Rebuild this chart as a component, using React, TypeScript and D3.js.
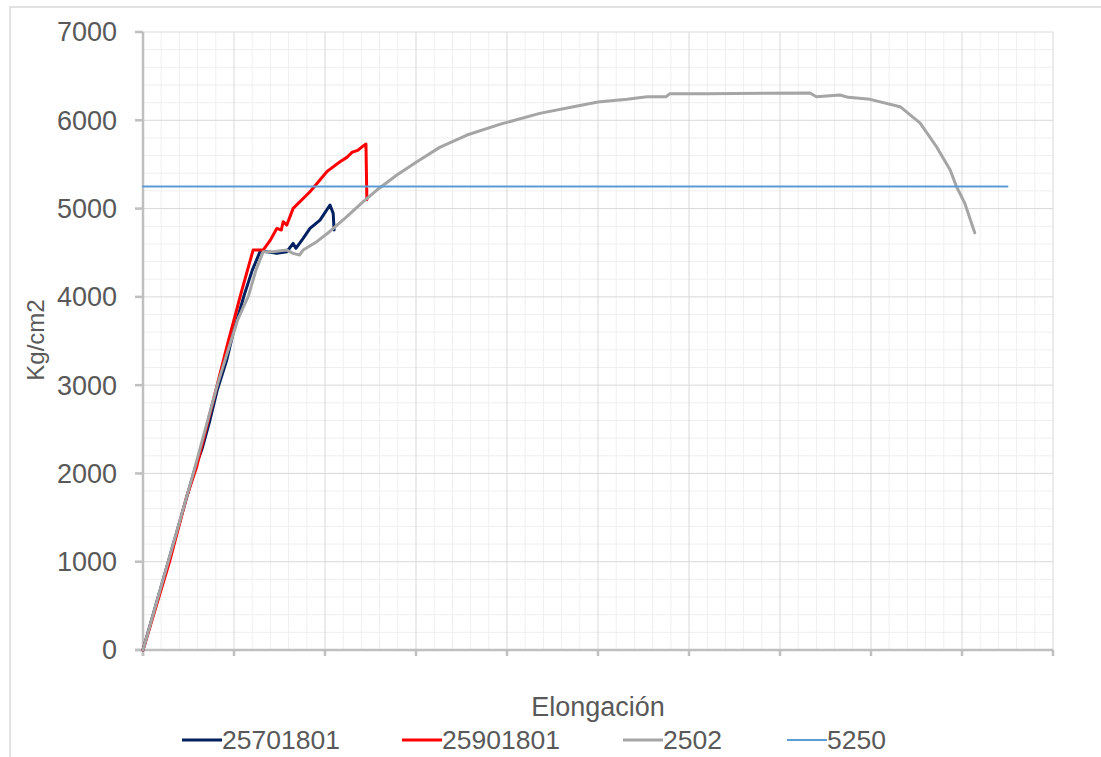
import * as d3 from "d3";

// readings (x: elongation in grid units, y: kg/cm2)
const s25701801: [number, number][] = [
  [0, 0], [0.55, 1980], [0.59, 2115], [0.645, 2265], [0.736, 2605], [0.816, 2945],
  [0.92, 3285], [0.99, 3587], [1.11, 4013], [1.2, 4300], [1.29, 4522], [1.47, 4493],
  [1.58, 4511], [1.65, 4606], [1.68, 4550], [1.76, 4662], [1.835, 4775], [1.945, 4870],
  [2.055, 5040], [2.09, 4946], [2.1, 4757],
];
const s25901801: [number, number][] = [
  [0, 0], [0.297, 1020], [0.48, 1736], [0.59, 2076], [0.736, 2681], [0.94, 3511],
  [1.0, 3738], [1.07, 4013], [1.21, 4530], [1.32, 4530], [1.36, 4587], [1.4, 4644],
  [1.47, 4775], [1.52, 4757], [1.54, 4851], [1.58, 4813], [1.65, 5002], [1.835, 5191],
  [2.02, 5418], [2.165, 5530], [2.24, 5580], [2.3, 5640], [2.36, 5660], [2.42, 5710],
  [2.45, 5730], [2.46, 5100],
];
const s2502: [number, number][] = [
  [0, 0], [0.553, 2000], [0.816, 3000], [0.93, 3380], [1.04, 3738], [1.16, 4013],
  [1.24, 4300], [1.32, 4510], [1.43, 4511], [1.58, 4530], [1.65, 4493], [1.72, 4474],
  [1.76, 4530], [1.91, 4625], [2.05, 4738], [2.24, 4908], [2.42, 5078], [2.57, 5210],
  [2.79, 5380], [3.01, 5531], [3.26, 5693], [3.56, 5833], [3.92, 5954], [4.36, 6078],
  [4.73, 6154], [5.0, 6207], [5.32, 6237], [5.54, 6267], [5.75, 6267], [5.79, 6301],
  [6.19, 6301], [7.33, 6309], [7.4, 6267], [7.66, 6286], [7.75, 6260], [7.99, 6237],
  [8.32, 6154], [8.54, 5968], [8.72, 5700], [8.87, 5436], [8.94, 5247], [9.03, 5062],
  [9.14, 4726],
];
const s5250: [number, number][] = [[0, 5250], [9.5, 5250]];

const seriesNames = ["25701801", "25901801", "2502", "5250"];
const seriesColors = ["#002060", "#ff0000", "#a5a5a5", "#5b9bd5"];
const seriesData = [s25701801, s25901801, s2502, s5250];
const seriesWidths = [3, 3, 3, 2];

const yTicks = [0, 1000, 2000, 3000, 4000, 5000, 6000, 7000];
const xMajor = d3.range(0, 11);

const W = 1101;
const H = 757;
const font = "'Liberation Sans', Arial, sans-serif";
const textColor = "#595959";

export default function App() {
  const x = d3.scaleLinear().domain([0, 10]).range([143, 1053]);
  const y = d3.scaleLinear().domain([0, 7000]).range([650, 32]);
  const line = d3.line<[number, number]>().x((d) => x(d[0])).y((d) => y(d[1]));

  const xMinor = d3.range(0, 50).map((i) => i * 0.2).filter((v) => Math.abs(v - Math.round(v)) > 1e-6);
  const yMinor = d3.range(0, 35).map((i) => i * 200).filter((v) => v % 1000 !== 0);

  const legendX = [182, 402, 623, 787];

  return (
    <svg width={W} height={H} style={{ position: "absolute", left: 0, top: 0, background: "#fff" }}>
      <rect x={10} y={7} width={W + 10} height={H + 10} fill="#fff" stroke="#d9d9d9" strokeWidth={1.5} />

      {/* minor grid */}
      {xMinor.map((v) => (
        <line key={"xm" + v} x1={x(v)} x2={x(v)} y1={y(0)} y2={y(7000)} stroke="#efefef" strokeWidth={1} />
      ))}
      {yMinor.map((v) => (
        <line key={"ym" + v} x1={x(0)} x2={x(10)} y1={y(v)} y2={y(v)} stroke="#efefef" strokeWidth={1} />
      ))}
      {/* major grid */}
      {xMajor.map((v) => (
        <line key={"xM" + v} x1={x(v)} x2={x(v)} y1={y(0)} y2={y(7000)} stroke="#d9d9d9" strokeWidth={1} />
      ))}
      {yTicks.map((v) => (
        <line key={"yM" + v} x1={x(0)} x2={x(10)} y1={y(v)} y2={y(v)} stroke="#d9d9d9" strokeWidth={1} />
      ))}

      {/* axes */}
      <line x1={x(0)} x2={x(0)} y1={y(0) + 6} y2={y(7000)} stroke="#bfbfbf" strokeWidth={2.5} />
      <line x1={135} x2={x(10)} y1={y(0)} y2={y(0)} stroke="#bfbfbf" strokeWidth={2.5} />
      {yTicks.map((v) => (
        <g key={"yt" + v}>
          <line x1={135} x2={x(0)} y1={y(v)} y2={y(v)} stroke="#bfbfbf" strokeWidth={2.5} />
          <text x={117} y={y(v)} dy="0.35em" textAnchor="end" fontFamily={font} fontSize={27} fill={textColor}>
            {v}
          </text>
        </g>
      ))}
      {xMajor.map((v) => (
        <line key={"xt" + v} x1={x(v)} x2={x(v)} y1={y(0)} y2={y(0) + 6} stroke="#bfbfbf" strokeWidth={2.5} />
      ))}

      {/* series */}
      {seriesData.map((d, i) => (
        <path key={seriesNames[i]} d={line(d) ?? ""} fill="none" stroke={seriesColors[i]}
          strokeWidth={seriesWidths[i]} strokeLinejoin="round" strokeLinecap="round" />
      ))}

      {/* titles */}
      <text transform="translate(44,340) rotate(-90)" textAnchor="middle" fontFamily={font} fontSize={24} fill={textColor}>
        Kg/cm2
      </text>
      <text x={598} y={716} textAnchor="middle" fontFamily={font} fontSize={27} fill={textColor}>
        Elongación
      </text>

      {/* legend */}
      {seriesNames.map((n, i) => (
        <g key={"lg" + n} transform={`translate(${legendX[i]},740)`}>
          <line x1={0} x2={40} y1={0} y2={0} stroke={seriesColors[i]} strokeWidth={seriesWidths[i]} />
          <text x={40} y={0} dy="0.35em" fontFamily={font} fontSize={26.5} fill={textColor}>
            {n}
          </text>
        </g>
      ))}
    </svg>
  );
}
